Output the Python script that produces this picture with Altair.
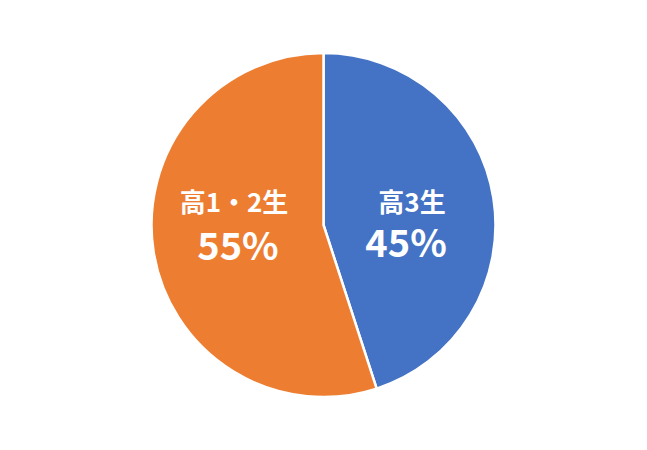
import altair as alt
import pandas as pd

categories = ["高3生", "高1・2生"]
values = [45, 55]
pct_labels = ["45%", "55%"]
order = [1, 2]
colors = ["#4472C4", "#ED7D31"]

df = pd.DataFrame({"cat": categories, "value": values, "pct": pct_labels, "order": order})

FONT = "Noto Sans CJK JP"
theta_scale = alt.Scale(domain=[0, 100])

base = alt.Chart(df).transform_stack(
    stack="value", as_=["v0", "v1"], groupby=[], sort=[alt.SortField("order")]
).transform_calculate(mid="(datum.v0 + datum.v1) / 2")

pie = base.mark_arc(outerRadius=172, stroke="white", strokeWidth=2.5).encode(
    theta=alt.Theta("v0:Q", scale=theta_scale),
    theta2="v1:Q",
    color=alt.Color("cat:N", scale=alt.Scale(domain=categories, range=colors), legend=None),
)

def txt(cat, field, size, dx, dy):
    return base.transform_filter(alt.datum.cat == cat).mark_text(
        radius=87, dx=dx, dy=dy, fontSize=size, fontWeight="bold", font=FONT,
        color="white", align="center", baseline="middle"
    ).encode(theta=alt.Theta("mid:Q", scale=theta_scale), text=f"{field}:N")

chart = alt.layer(
    pie,
    txt("高3生", "cat", 26, 2.6, -7),
    txt("高3生", "pct", 38, -3.4, 35),
    txt("高1・2生", "cat", 26, -3.6, -34.2),
    txt("高1・2生", "pct", 38, 0.4, 10.4),
).properties(
    width=631, height=434,
    autosize=alt.AutoSizeParams(type="none"),
    padding=0,
).configure_view(stroke=None)

chart.save("out.html", embed_options={"renderer": "svg", "actions": False})
